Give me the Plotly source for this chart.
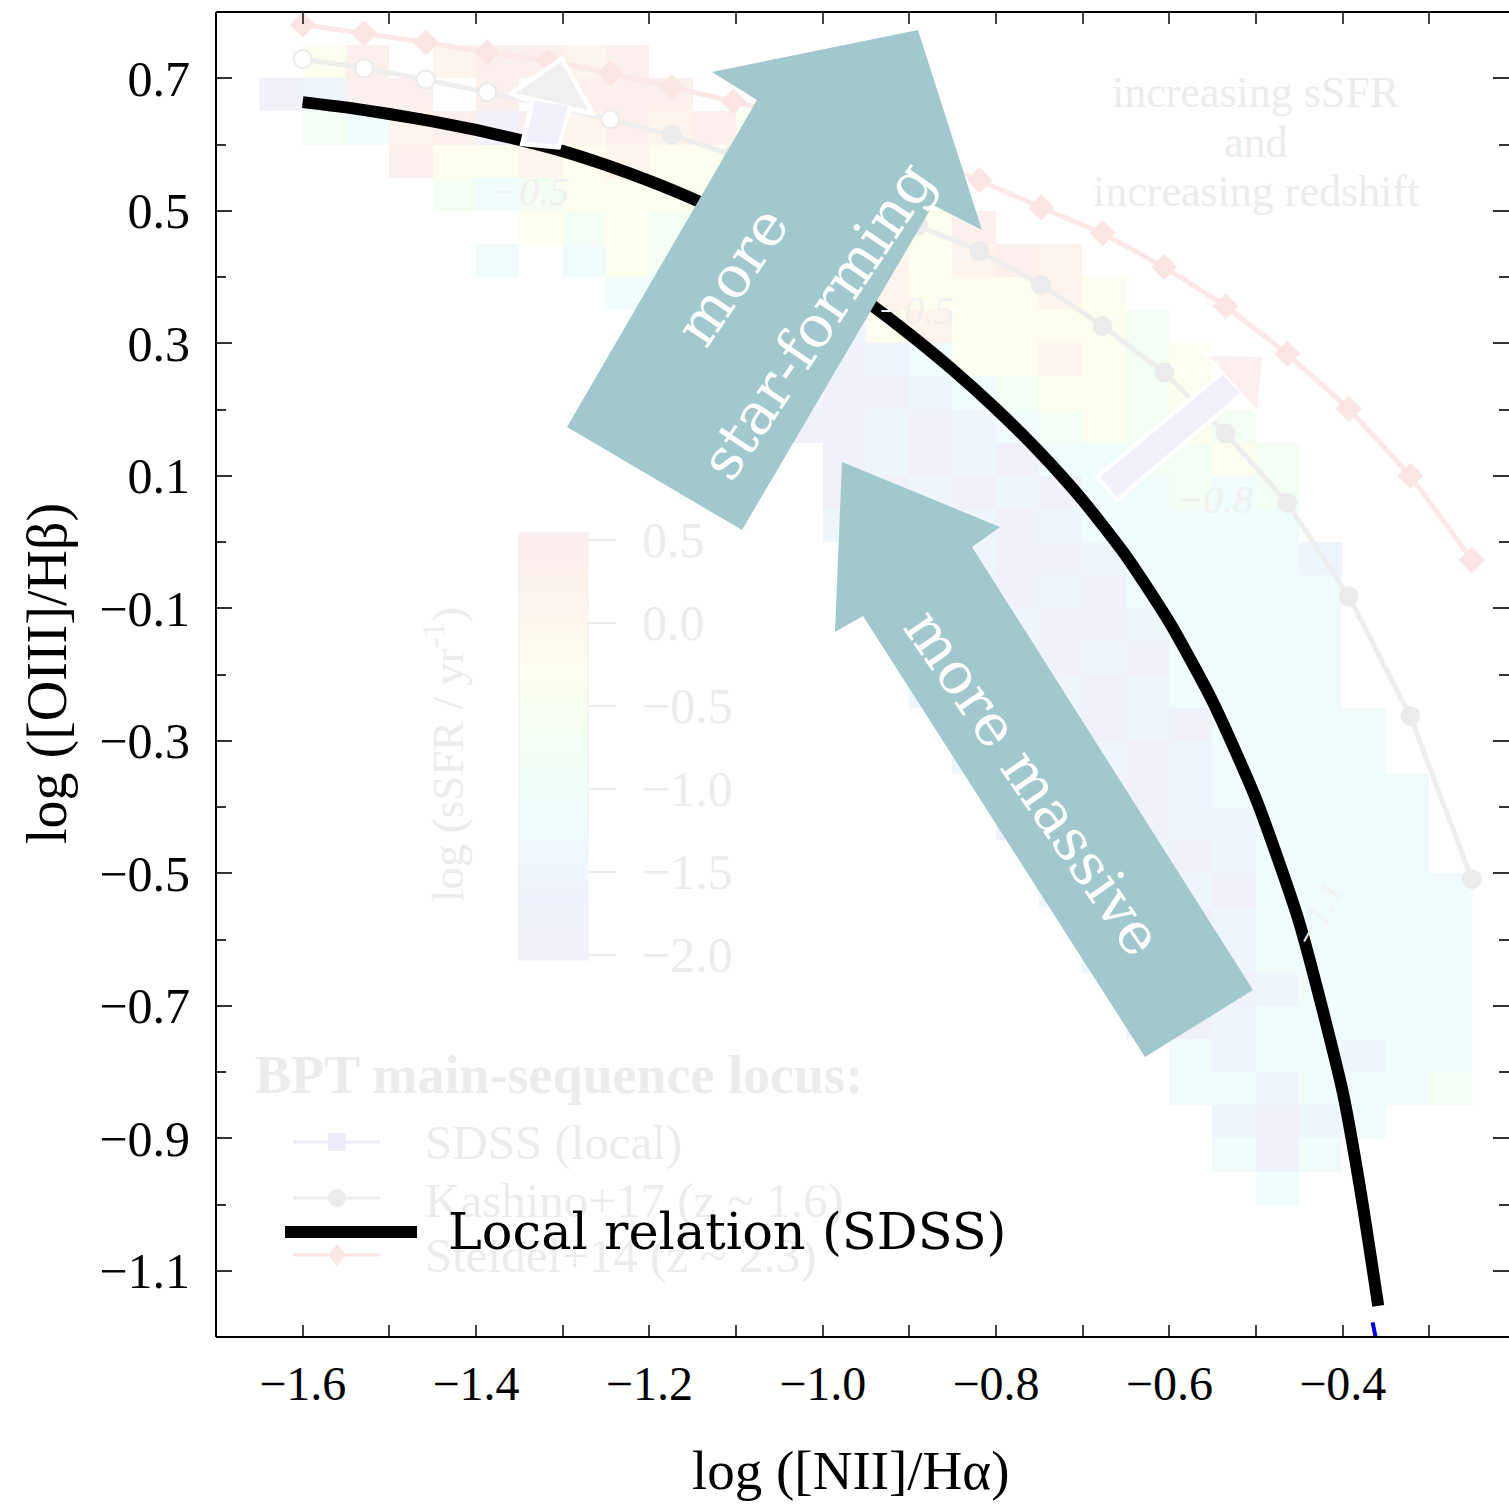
import plotly.graph_objects as go

# ---------------- data ----------------
# local relation (SDSS) - black curve
curve_x = [-1.60, -1.55, -1.50, -1.45, -1.40, -1.35, -1.30, -1.25, -1.20, -1.15, -1.10, -1.05,
           -1.00, -0.95, -0.90, -0.85, -0.80, -0.75, -0.70, -0.65, -0.60, -0.55, -0.50, -0.45,
           -0.40, -0.38, -0.359]
curve_y = [0.664, 0.656, 0.646, 0.635, 0.622, 0.607, 0.590, 0.569, 0.545, 0.518, 0.487, 0.451,
           0.410, 0.364, 0.314, 0.260, 0.201, 0.136, 0.063, -0.021, -0.121, -0.241, -0.388, -0.575,
           -0.830, -0.975, -1.153]
# small visible tail of the (faded) SDSS locus line
sdss_tail_x = [-0.3655, -0.3605]
sdss_tail_y = [-1.178, -1.210]

# faded BPT main-sequence loci
locus_x = [-1.600, -1.529, -1.458, -1.387, -1.316, -1.245, -1.174, -1.103, -1.032, -0.961,
           -0.890, -0.819, -0.748, -0.677, -0.606, -0.535, -0.464, -0.393, -0.322, -0.251]
kashino_y = [0.729, 0.715, 0.698, 0.679, 0.659, 0.638, 0.614, 0.584, 0.551, 0.516,
             0.478, 0.439, 0.388, 0.326, 0.256, 0.164, 0.059, -0.082, -0.263, -0.509]
steidel_y = [0.781, 0.768, 0.754, 0.739, 0.726, 0.708, 0.686, 0.665, 0.641, 0.614,
             0.582, 0.546, 0.505, 0.466, 0.415, 0.356, 0.284, 0.201, 0.100, -0.027]

# faded sSFR map: rows from top (y=0.725) downward, 0.05 bins, columns from x=-1.625
ssfr_code_values = {'R': 0.4, 'O': 0.1, 'Y': -0.3, 'G': -0.7, 'C': -1.1, 'B': -1.5, 'P': -1.9}
ssfr_rows = [
    ".YR.ORROR",
    "PBRR.R.RRR",
    ".GCORPRORORYO",
    "...RYYOYOYYOY",
    "....GCGYYYYOYOR",
    "......YGYGCOYYOYR",
    ".....C.CYGC..YOYORO",
    "........CCGGYYOYYYOY",
    ".........CGGPBYOYYYYG",
    "............PPBCYYOYGY",
    "............BPPBCGYYGY",
    "............PPBPBCGYGYG",
    ".............PBPBPCCGGYG",
    ".............PPBPBPCCGCG",
    ".............BPPBPBCCCCC",
    "..............PPBPPBCCCCB",
    "..............PBPPBPCCCCC",
    "...............PPBPPBCCCC",
    "...............PBPPBPCCCC",
    "...............BPPBPBCCCC",
    "................PPBPBPCCCC",
    "................BPPBPBCCCC",
    ".................PPBPBCCCCC",
    ".................PBPPBBCCCC",
    "..................PPBPBCCCC",
    "..................BPPBPCCCCC",
    "...................PBPBCCCCC",
    "...................BPBBCCCCC",
    "....................PBPBCCCC",
    "....................BPBCCCCC",
    ".....................CBCCBCC",
    ".....................CCBCCCG",
    "......................BPBC",
    "......................CPC",
    ".......................C",
    "",
    "",
    "",
]

xtick_vals = [-1.6, -1.4, -1.2, -1.0, -0.8, -0.6, -0.4]
xtick_text = ["\u22121.6", "\u22121.4", "\u22121.2", "\u22121.0", "\u22120.8", "\u22120.6", "\u22120.4"]
ytick_vals = [0.7, 0.5, 0.3, 0.1, -0.1, -0.3, -0.5, -0.7, -0.9, -1.1]
ytick_text = ["0.7", "0.5", "0.3", "0.1", "\u22120.1", "\u22120.3", "\u22120.5", "\u22120.7", "\u22120.9", "\u22121.1"]
cbar_vals = [0.5, 0.0, -0.5, -1.0, -1.5, -2.0]
cbar_text = ["0.5", "0.0", "\u22120.5", "\u22121.0", "\u22121.5", "\u22122.0"]

# ---------------- geometry / style ----------------
W, H = 1509, 1504
L, R, T, B = 216, 0, 12, 167
PW, PH = W - L - R, H - T - B
XR = [-1.7, -1.7 + PW / 866.7]
YR = [-1.2, 0.8]

def px(xp):
    return (xp - L) / PW

def py(yp):
    return (H - B - yp) / PH

def path(pts):
    return "M " + " L ".join(f"{px(a):.5f},{py(b):.5f}" for a, b in pts) + " Z"

SERIF = "Liberation Serif"
FADE = "#ececec"
TEAL = "#a0c8cd"

z = [[ssfr_code_values.get(ch) for ch in row.ljust(28, '.')[:28]] for row in reversed(ssfr_rows)]

fade_scale = [[0.0, '#f1f0fb'], [0.167, '#eff3fc'], [0.323, '#effcfd'], [0.44, '#f0fdf7'],
              [0.576, '#f6fdf0'], [0.693, '#fdfdef'], [0.81, '#fdf5ed'], [1.0, '#fbeeee']]

fig = go.Figure()

fig.add_trace(go.Heatmap(
    z=z, x0=-1.625, dx=0.05, y0=-1.125, dy=0.05,
    zmin=-2.03, zmax=0.542, colorscale=fade_scale, hoverinfo='skip',
    colorbar=dict(x=px(519), xanchor='left', xpad=0, y=py(746.5), yanchor='middle',
                  len=427 / PH, lenmode='fraction', ypad=0, thickness=69, thicknessmode='pixels',
                  outlinecolor='#efefef', outlinewidth=1, ticks='outside', ticklen=28,
                  tickwidth=2, tickcolor='#ececec', tickvals=cbar_vals, showticklabels=False),
))

fig.add_trace(go.Scatter(
    x=locus_x, y=steidel_y, mode='lines+markers', hoverinfo='skip',
    line=dict(color='#fce8e8', width=5),
    marker=dict(symbol='diamond', size=20, color='#fbe4e4'),
))
fig.add_trace(go.Scatter(
    x=locus_x, y=kashino_y, mode='lines+markers', hoverinfo='skip',
    line=dict(color='#eeeeee', width=5),
    marker=dict(size=18, color=['white'] * 6 + ['#ebebeb'] * 14,
                line=dict(color='#ebebeb', width=2)),
))
fig.add_trace(go.Scatter(
    x=sdss_tail_x, y=sdss_tail_y, mode='lines', hoverinfo='skip',
    line=dict(color='#0000ff', width=4),
))
fig.add_trace(go.Scatter(
    x=curve_x, y=curve_y, mode='lines', hoverinfo='skip',
    line=dict(color='black', width=12, shape='spline', smoothing=0.6),
))

shapes = []
# faded small arrows (white outline)
top_arrow = [(525, 142), (535, 101), (516, 93), (561, 62), (588, 110), (568, 106), (557, 145)]
right_arrow = [(1100, 477), (1223, 375), (1210, 356), (1262, 357), (1257, 410), (1240, 393), (1117, 497)]
for arr, shaft_col, head_col in [(top_arrow, '#f1f1fb', '#f0f0f0'), (right_arrow, '#f2f0fb', '#fcefef')]:
    shapes.append(dict(type='path', path=path(arr), xref='paper', yref='paper',
                       fillcolor='white', line=dict(color='white', width=9), layer='above'))
    shapes.append(dict(type='path', path=path([arr[0], arr[1], arr[5], arr[6]]), xref='paper', yref='paper',
                       fillcolor=shaft_col, line=dict(width=0), layer='above'))
    shapes.append(dict(type='path', path=path([arr[2], arr[3], arr[4]]), xref='paper', yref='paper',
                       fillcolor=head_col, line=dict(width=0), layer='above'))

# teal arrows
arrow_sf = [(918, 30), (712, 72), (757, 100), (567, 427), (742, 530), (933, 205), (982, 230)]
arrow_ms = [(842, 462), (835, 632), (863, 616), (1145, 1057), (1253, 990), (972, 547), (1000, 527)]
for arr in (arrow_sf, arrow_ms):
    shapes.append(dict(type='path', path=path(arr), xref='paper', yref='paper',
                       fillcolor=TEAL, line=dict(width=0), layer='above'))

# faded legend symbols
for yy, col, sym in [(1142, '#ececfa', 'square'), (1198, '#ececec', 'circle'), (1255, '#fbe6e6', 'diamond')]:
    shapes.append(dict(type='line', xref='paper', yref='paper', x0=px(293), x1=px(380), y0=py(yy), y1=py(yy),
                       line=dict(color=col, width=3), layer='above'))
    if sym == 'square':
        shapes.append(dict(type='rect', xref='paper', yref='paper', x0=px(328), x1=px(346), y0=py(yy + 9), y1=py(yy - 9),
                           fillcolor=col, line=dict(width=0), layer='above'))
    elif sym == 'circle':
        shapes.append(dict(type='circle', xref='paper', yref='paper', x0=px(328), x1=px(346), y0=py(yy + 9), y1=py(yy - 9),
                           fillcolor=col, line=dict(width=0), layer='above'))
    else:
        shapes.append(dict(type='path', xref='paper', yref='paper',
                           path=path([(337, yy - 11), (346, yy), (337, yy + 11), (328, yy)]),
                           fillcolor=col, line=dict(width=0), layer='above'))

# black legend sample
shapes.append(dict(type='line', xref='paper', yref='paper', x0=px(285), x1=px(417), y0=py(1232), y1=py(1232),
                   line=dict(color='black', width=12), layer='above'))

# frame (left, top, bottom)
for x0, x1, y0, y1 in [(0, 0, 0, 1), (0, 1, 1, 1), (0, 1, 0, 0)]:
    shapes.append(dict(type='line', xref='paper', yref='paper', x0=x0, x1=x1, y0=y0, y1=y1,
                       line=dict(color='black', width=2), layer='above'))

ann = []
def text(t, xp, yp, size, color, font=SERIF, angle=0, xanchor='center', bold=False, italic=False):
    if bold:
        t = f"<b>{t}</b>"
    if italic:
        t = f"<i>{t}</i>"
    ann.append(dict(text=t, x=px(xp), y=py(yp), xref='paper', yref='paper', showarrow=False,
                    textangle=angle, xanchor=xanchor, yanchor='middle',
                    font=dict(family=font, size=size, color=color)))

# faded texts
text("increasing sSFR", 1256, 93, 44, FADE)
text("and", 1256, 143, 44, FADE)
text("increasing redshift", 1256, 192, 44, FADE)
text("\u22120.5", 530, 192, 40, '#f0f0f0', italic=True)
text("\u22120.5", 915, 310, 40, '#f0f0f0', italic=True)
text("\u22120.8", 1214, 500, 40, '#f0f0f0', italic=True)
text("\u22121.1", 1318, 915, 36, '#f2f2f2', angle=-62, italic=True)
text("log (sSFR / yr<sup>-1</sup>)", 445, 755, 45, FADE, angle=-90)
for v, t in zip(cbar_vals, cbar_text):
    yy = 540 + (0.5 - v) * 166
    text(t, 640, yy, 50, FADE, xanchor='left')
text("BPT main-sequence locus:", 253, 1075, 54, FADE, xanchor='left', bold=True)
text("SDSS (local)", 423, 1142, 49, FADE, xanchor='left')
text("Kashino+17 (z ~ 1.6)", 423, 1200, 49, FADE, xanchor='left')
text("Steidel+14 (z ~ 2.3)", 423, 1255, 49, FADE, xanchor='left')

# arrow labels
text("more", 732, 276, 58, 'white', font='DejaVu Serif', angle=-56)
text("star-forming", 817, 321, 58, 'white', font='DejaVu Serif', angle=-56)
text("more massive", 1033, 782, 58, 'white', font='DejaVu Serif', angle=55.4)

# legend text
text("Local relation (SDSS)", 446, 1231, 51, 'black', font='DejaVu Serif', xanchor='left')

# axis titles
text("log ([NII]/H\u03b1)", 850, 1470, 55, 'black')
text("log ([OIII]/H\u03b2)", 48, 674, 56, 'black', angle=-90)

fig.update_layout(
    width=W, height=H, margin=dict(l=L, r=R, t=T, b=B, pad=0),
    paper_bgcolor='white', plot_bgcolor='white', showlegend=False,
    shapes=shapes, annotations=ann,
    xaxis=dict(range=XR, showgrid=False, zeroline=False, showline=False, mirror='ticks',
               ticks='inside', ticklen=12, tickwidth=2, tickcolor='#444444',
               tickvals=xtick_vals, ticktext=xtick_text, ticklabelstandoff=14,
               tickfont=dict(family=SERIF, size=48, color='black'),
               minor=dict(tick0=-1.7, dtick=0.1, ticks='inside', ticklen=12, tickwidth=2, tickcolor='#444444')),
    yaxis=dict(range=YR, showgrid=False, zeroline=False, showline=False, mirror='ticks',
               ticks='inside', ticklen=16, tickwidth=2, tickcolor='#333333',
               tickvals=ytick_vals, ticktext=ytick_text, ticklabelstandoff=25,
               tickfont=dict(family=SERIF, size=50, color='black'),
               minor=dict(tick0=-1.2, dtick=0.1, ticks='inside', ticklen=10, tickwidth=2, tickcolor='#333333')),
)

fig.write_html("out.html")
